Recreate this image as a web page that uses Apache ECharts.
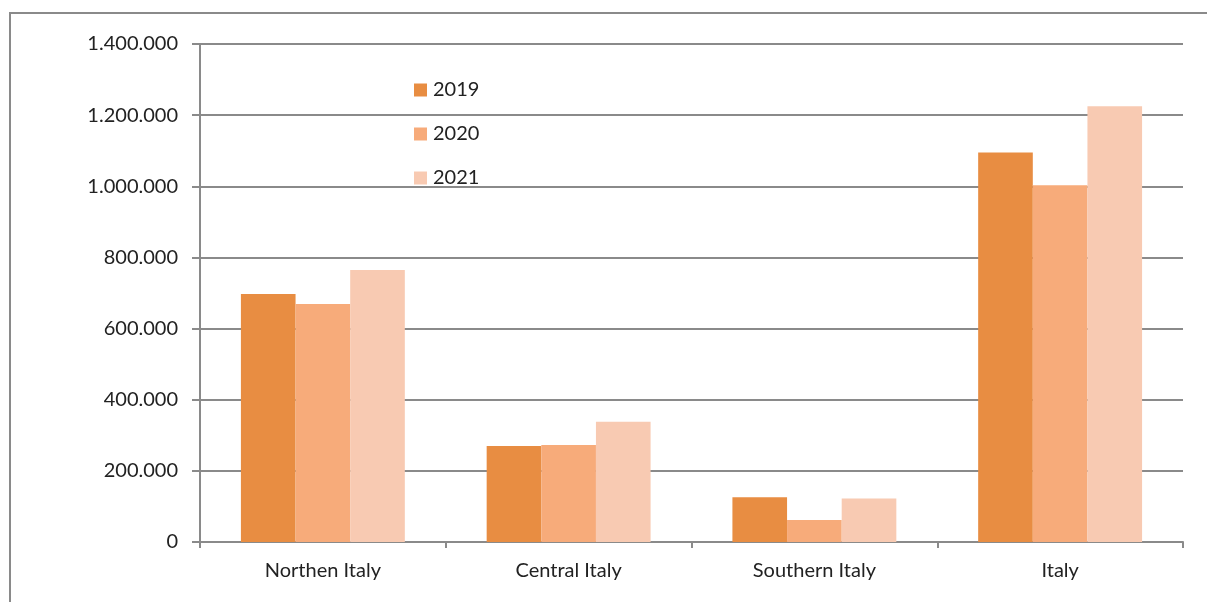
<!DOCTYPE html>
<html>
<head>
<meta charset="utf-8">
<script src="https://cdn.jsdelivr.net/npm/echarts@6/dist/echarts.min.js"></script>
<style>
  html, body { margin: 0; padding: 0; background: #fff; }
  #chart { width: 1207px; height: 602px; }
</style>
</head>
<body>
<div id="chart"></div>
<script>
// Areas along the category axis
const areas = ['Northen Italy', 'Central Italy', 'Southern Italy', 'Italy'];

// Yearly values per area
const values2019 = [697000, 270000, 126000, 1095000];
const values2020 = [669000, 273000, 62000, 1003000];
const values2021 = [765000, 338000, 122000, 1225000];

const years = ['2019', '2020', '2021'];
const yearColors = ['#E88D42', '#F7AB7A', '#F8CAB2'];

// Value axis ticks
const yMin = 0;
const yMax = 1400000;
const yStep = 200000;

const fontFamily = 'Lato, "Open Sans", sans-serif';
const gridColor = '#8a8a8a';

function dotThousands(v) {
  return String(v).replace(/\B(?=(\d{3})+(?!\d))/g, '.');
}

const seriesData = [values2019, values2020, values2021];

const chart = echarts.init(document.getElementById('chart'), null, { renderer: 'canvas' });
chart.setOption({
  animation: false,
  backgroundColor: '#ffffff',
  graphic: [{
    type: 'rect',
    shape: { x: 10, y: 13, width: 1230, height: 620 },
    style: { fill: 'none', stroke: '#8a8a8a', lineWidth: 2 },
    silent: true
  }],
  legend: {
    orient: 'vertical',
    left: 409,
    top: 75,
    itemWidth: 13,
    itemHeight: 13,
    itemGap: 24,
    icon: 'rect',
    data: years,
    textStyle: { fontFamily, fontSize: 20, color: '#222', padding: [0, 0, 0, 1] }
  },
  grid: { left: 200, right: 24, top: 44, bottom: 60, containLabel: false },
  xAxis: {
    type: 'category',
    data: areas,
    boundaryGap: true,
    axisLine: { show: true, lineStyle: { color: gridColor, width: 2 } },
    axisTick: { show: true, length: 6, alignWithLabel: false, lineStyle: { color: gridColor, width: 2 } },
    axisLabel: { fontFamily, fontSize: 20, color: '#222', margin: 19 },
    splitLine: { show: false }
  },
  yAxis: {
    type: 'value',
    min: yMin,
    max: yMax,
    interval: yStep,
    axisLine: { show: true, lineStyle: { color: gridColor, width: 2 } },
    axisTick: { show: true, inside: false, length: 8, lineStyle: { color: gridColor, width: 2 } },
    axisLabel: { fontFamily, fontSize: 20, color: '#222', margin: 22, formatter: dotThousands },
    splitLine: { show: true, lineStyle: { color: gridColor, width: 2 } }
  },
  series: years.map((y, i) => ({
    name: y,
    type: 'bar',
    data: seriesData[i],
    barGap: '0%',
    barCategoryGap: '33.3%',
    itemStyle: { color: yearColors[i] }
  }))
});
</script>
</body>
</html>
